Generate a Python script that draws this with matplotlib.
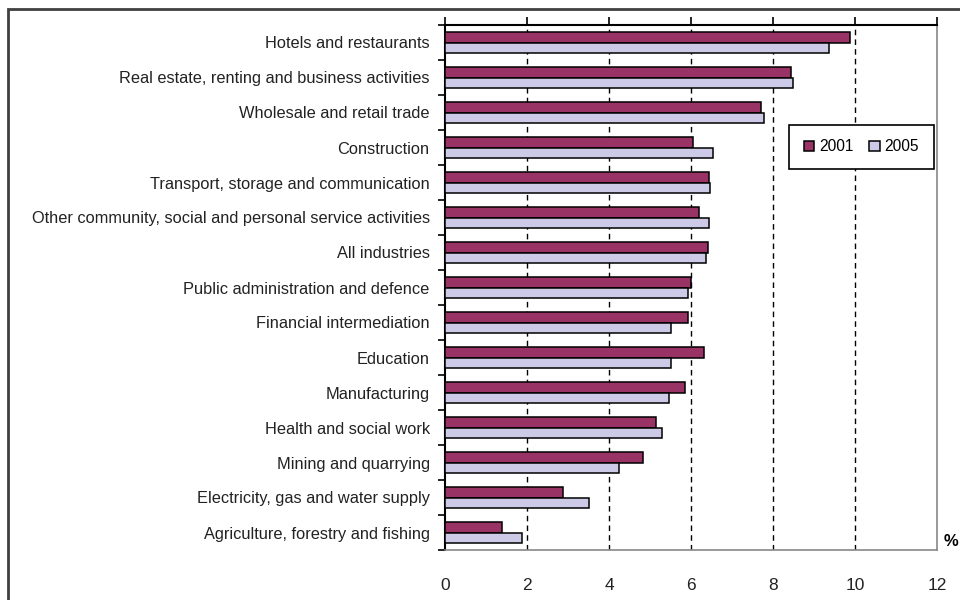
import numpy as np
import matplotlib
matplotlib.use("Agg")
import matplotlib.pyplot as plt
from matplotlib.patches import Rectangle

plt.rcParams['font.family'] = ['Liberation Sans', 'DejaVu Sans']

industries = [
    "Hotels and restaurants",
    "Real estate, renting and business activities",
    "Wholesale and retail trade",
    "Construction",
    "Transport, storage and communication",
    "Other community, social and personal service activities",
    "All industries",
    "Public administration and defence",
    "Financial intermediation",
    "Education",
    "Manufacturing",
    "Health and social work",
    "Mining and quarrying",
    "Electricity, gas and water supply",
    "Agriculture, forestry and fishing",
]
v2001 = [9.88, 8.45, 7.71, 6.04, 6.45, 6.20, 6.42, 6.01, 5.93, 6.32, 5.85, 5.14, 4.84, 2.87, 1.40]
v2005 = [9.36, 8.49, 7.78, 6.54, 6.46, 6.43, 6.37, 5.93, 5.50, 5.50, 5.47, 5.30, 4.24, 3.52, 1.89]
xticks = [0, 2, 4, 6, 8, 10, 12]

fig = plt.figure(figsize=(9.6, 6.0), dpi=100)
ax = fig.add_axes([445 / 960, 1 - 550 / 600, (937 - 445) / 960, (550 - 25) / 600])

y = np.arange(len(industries))
h = 0.29
ax.barh(y - h / 2, v2001, height=h, color='#993366', edgecolor='black', linewidth=1.1, label='2001', zorder=3)
ax.barh(y + h / 2, v2005, height=h, color='#CCCAE6', edgecolor='black', linewidth=1.1, label='2005', zorder=3)

ax.set_xlim(0, 12)
ax.set_ylim(len(industries) - 0.5, -0.5)

# dashed vertical gridlines
for g in xticks[1:-1]:
    ax.axvline(g, color='black', linestyle=(0, (4, 3)), linewidth=1.0, zorder=1)

ax.set_xticks(xticks)
ax.set_xticklabels([str(t) for t in xticks], fontsize=12.5, color='#222222')
ax.tick_params(axis='x', top=True, bottom=False, labeltop=False, labelbottom=True,
               direction='out', length=6, width=1.2, pad=14)

ax.set_yticks(y)
ax.set_yticklabels(industries, fontsize=11.8, color='#222222')
ax.set_yticks(np.arange(len(industries) + 1) - 0.5, minor=True)
ax.tick_params(axis='y', which='major', length=0, pad=11)
ax.tick_params(axis='y', which='minor', length=5, width=1.2, direction='out')

ax.spines['top'].set_linewidth(1.5)
ax.spines['left'].set_linewidth(1.5)
ax.spines['bottom'].set_color('#888888')
ax.spines['right'].set_color('#888888')
ax.spines['bottom'].set_linewidth(1.2)
ax.spines['right'].set_linewidth(1.2)

leg = ax.legend(loc='upper right', bbox_to_anchor=(1.0, 0.816), ncol=2, fontsize=11.2,
                frameon=True, fancybox=False, edgecolor='black', handlelength=0.7,
                handleheight=0.7, handletextpad=0.3, columnspacing=1.0,
                borderpad=0.95, borderaxespad=0.2, framealpha=1)
leg.get_frame().set_linewidth(1.2)

fig.text(951 / 960, 1 - 542 / 600, '%', fontsize=12, fontweight='bold', ha='center', va='center')

# outer frame
fig.patches.append(Rectangle((7.5 / 960, -0.05), 1.1, 1 - 8.5 / 600 + 0.05, transform=fig.transFigure,
                             fill=False, edgecolor='#404040', linewidth=2))

fig.savefig('out.png', dpi=100)
